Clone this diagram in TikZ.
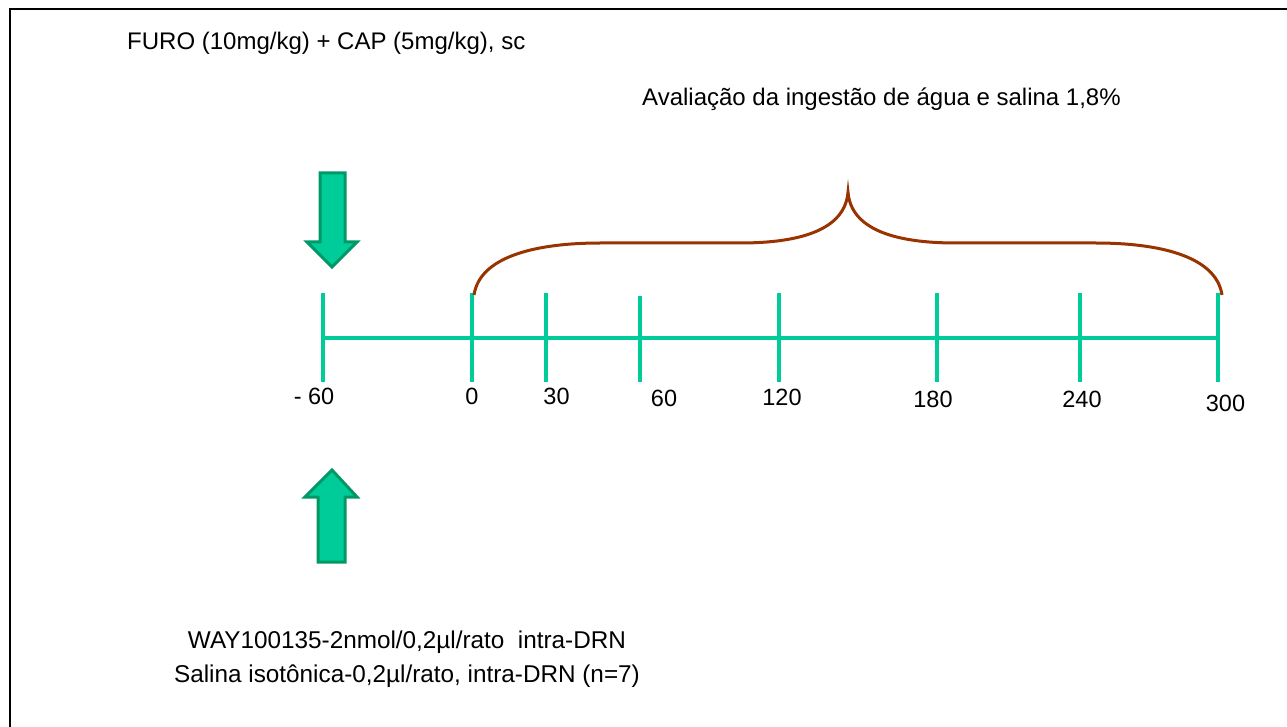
\documentclass[tikz,border=0pt]{standalone}
\usepackage{fontspec}
\setmainfont{Liberation Sans}
\definecolor{tl}{RGB}{0,204,153}
\definecolor{arrfill}{RGB}{0,204,153}
\definecolor{arrline}{RGB}{0,153,102}
\definecolor{brace}{RGB}{153,51,0}
\begin{document}
\begin{tikzpicture}[x=1pt,y=-1pt,
  lbl/.style={inner sep=0pt,font=\fontsize{24}{28}\selectfont},
  num/.style={inner sep=0pt,font=\fontsize{23.5}{28}\selectfont},
  big/.style={inner sep=0pt,anchor=base,font=\fontsize{24.3}{30}\selectfont},
  axis/.style={tl,line width=4pt},
  tickmark/.style={tl,line width=4pt},
  bigarrow/.style={fill=arrfill,draw=arrline,line width=3pt,line join=miter},
  bracepath/.style={brace,line width=3pt}]
\useasboundingbox (0,0) rectangle (1287,727);
\fill[white] (0,0) rectangle (1287,727);
% frame (only top and left visible)
\draw[black,line width=2pt] (10,740) -- (10,9) -- (1300,9);
% texts
\node[lbl,anchor=base west] (furo) at (127,50) {FURO (10mg/kg) + CAP (5mg/kg), sc};
\node[lbl,anchor=base west] (aval) at (642,106) {Avaliação da ingestão de água e salina 1,8\%};
\node[big] (way1) at (407,648) {WAY100135-2nmol/0,2µl/rato\ \ intra-DRN};
\node[big] (way2) at (407,682) {Salina isotônica-0,2µl/rato, intra-DRN (n=7)};
% timeline
\coordinate (ta) at (323,338);
\coordinate (tb) at (1218,338);
\draw[axis] (ta) -- (tb);
\foreach \x/\t in {323/293,472/293,546/293,640/296,779/293,937/293,1080/293,1218/293}{
  \draw[tickmark] (\x,\t) -- (\x,382);
}
\node[num] (l1) at (314,396) {- 60};
\node[num] (l2) at (472,396) {0};
\node[num] (l3) at (556.5,396) {30};
\node[num] (l4) at (664,398) {60};
\node[num] (l5) at (782,397) {120};
\node[num] (l6) at (933,399.5) {180};
\node[num] (l7) at (1082,399) {240};
\node[num] (l8) at (1225.5,403) {300};
% brace
\coordinate (bl) at (474,295);
\coordinate (bt) at (848,192);
\coordinate (br) at (1222,295);
\draw[bracepath] (bl) .. controls (480,255) and (540,243) .. (600,243)
  -- (740,243) .. controls (800,243) and (845,230) .. (bt)
  .. controls (851,230) and (896,243) .. (956,243)
  -- (1096,243) .. controls (1156,243) and (1216,255) .. (br);
% arrows
\draw[bigarrow] (320,173) -- (345,173) -- (345,242) -- (357,242) -- (332,267) -- (307,242) -- (320,242) -- cycle;
\draw[bigarrow] (318,562) -- (345,562) -- (345,497) -- (357,497) -- (332,470) -- (305,497) -- (318,497) -- cycle;
\end{tikzpicture}
\end{document}
